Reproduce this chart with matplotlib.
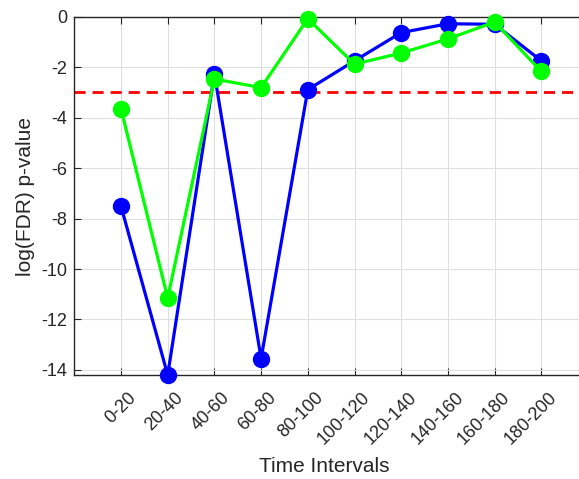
import matplotlib
matplotlib.use("Agg")
import matplotlib.pyplot as plt
import matplotlib.transforms as mtransforms

categories = ["0-20", "20-40", "40-60", "60-80", "80-100", "100-120",
              "120-140", "140-160", "160-180", "180-200"]
blue_vals = [-7.51, -14.2, -2.26, -13.55, -2.89, -1.75, -0.63, -0.28, -0.30, -1.75]
green_vals = [-3.65, -11.15, -2.47, -2.81, -0.08, -1.88, -1.44, -0.88, -0.21, -2.17]
threshold = -3.0
yticks = [0, -2, -4, -6, -8, -10, -12, -14]

plt.rcParams['font.family'] = ['Liberation Sans', 'DejaVu Sans']

fig = plt.figure(figsize=(5.79, 4.79), dpi=100)
ax = fig.add_axes([74.3/579, (479-375)/479, (588-74.3)/579, (375-16.7)/479])

x = list(range(1, len(categories) + 1))
ax.plot(x, blue_vals, color='#0000ff', lw=2.3, marker='o', ms=11.5, zorder=3, clip_on=False)
ax.plot(x, green_vals, color='#00ff00', lw=2.3, marker='o', ms=11.5, zorder=4, clip_on=False)
ax.axhline(threshold, color='#ff0000', ls=(0, (4, 2.5)), lw=2, zorder=2)

ax.set_xlim(0, 11)
ax.set_ylim(-14.2, 0)
ax.set_xticks(x)
ax.set_xticklabels([])
trans = mtransforms.blended_transform_factory(ax.transData, ax.transAxes) + \
    mtransforms.ScaledTranslation(7/100, -14/100, fig.dpi_scale_trans)
for xi, lab in zip(x, categories):
    ax.text(xi, 0, lab, transform=trans, rotation=45, ha='right', va='top',
            rotation_mode='anchor', fontsize=13, color='#262626', clip_on=False)
ax.set_yticks(yticks)
ax.set_yticklabels([str(v) for v in yticks], fontsize=13)
ax.tick_params(direction='in', top=True, right=True, length=5, colors='#262626', labelcolor='#262626')
ax.tick_params(axis='y', pad=5)
ax.grid(True, color='#dfdfdf', lw=0.8)
ax.set_axisbelow(True)
for s in ax.spines.values():
    s.set_color('#262626')
    s.set_linewidth(1.0)
ax.set_xlabel("Time Intervals", fontsize=15, color='#262626')
ax.set_ylabel("log(FDR) p-value", fontsize=15, color='#262626')
ax.xaxis.set_label_coords((324 - 74.3) / (588 - 74.3), -(466 - 375) / (375 - 16.7))
ax.xaxis.label.set_va('center')
ax.yaxis.set_label_coords(-(74.3 - 26) / (588 - 74.3), (479 - 197 - (479 - 375)) / (375 - 16.7))
ax.yaxis.label.set_va('center')

fig.savefig("out.png", dpi=100)
